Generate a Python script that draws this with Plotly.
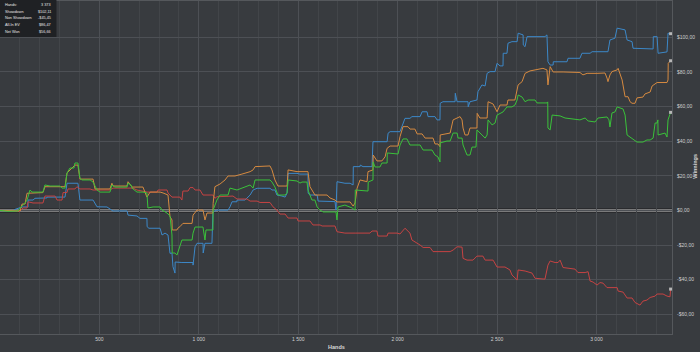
import plotly.graph_objects as go

# ---- data (hands, cumulative winnings $) ----
showdown = [(0,0),(65,-0.3),(75,0.6),(111,2.0),(141,2.0),(141,6.0),(166,6.0),(176,7.0),(236,7.2),(236,7.7),(327,7.7),(337,15.7),(392,15.7),(402,6.0),(468,6.0),(478,4.3),(488,2.1),(538,2.0),(553,0.8),(568,-0.3),(639,-0.3),(644,-2.7),(689,-3.2),(704,-4.6),(739,-4.6),(740,-9.4),(749,-10.3),(805,-10.3),(815,-14.2),(830,-13.1),(845,-14.2),(855,-24.8),(865,-24.6),(870,-32.5),(880,-36.2),(881,-29.8),(915,-30.1),(971,-30.1),(971,-31.6),(981,-21.0),(991,-19.0),(1021,-19.0),(1022,-24.6),(1031,-19.0),(1066,-19.0),(1071,-0.8),(1091,0.2),(1147,0.2),(1157,2.1),(1167,5.0),(1192,5.0),(1192,6.0),(1232,6.0),(1258,8.9),(1273,11.8),(1293,12.8),(1358,12.8),(1368,11.8),(1383,11.8),(1393,8.9),(1418,8.3),(1434,7.7),(1444,10.1),(1449,21.4),(1494,21.4),(1509,21.0),(1549,21.0),(1550,9.9),(1559,8.9),(1595,8.9),(1600,5.4),(1685,5.1),(1690,0.2),(1695,16.6),(1735,15.7),(1761,15.7),(1776,14.7),(1777,25.3),(1811,25.3),(1812,26.2),(1826,25.3),(1871,25.3),(1876,39.7),(1947,39.7),(1952,44.6),(1962,45.5),(2012,45.5),(2022,48.4),(2037,53.2),(2062,53.2),(2072,54.2),(2113,54.2),(2123,57.0),(2148,57.0),(2153,54.2),(2188,54.2),(2198,52.3),(2213,52.3),(2214,61.9),(2228,62.8),(2289,62.8),(2290,67.7),(2299,62.8),(2354,62.8),(2355,59.9),(2364,62.8),(2399,63.8),(2404,68.6),(2424,72.5),(2440,71.9),(2450,79.2),(2465,80.2),(2490,80.2),(2500,85.0),(2515,83.5),(2530,83.5),(2531,90.8),(2550,90.8),(2555,96.6),(2575,97.5),(2601,97.5),(2606,102.4),(2631,101.4),(2632,95.6),(2641,94.6),(2651,100.4),(2741,100.4),(2751,101.4),(2756,85.9),(2767,84.0),(2782,84.0),(2783,85.9),(2852,85.9),(2857,87.9),(2917,87.9),(2927,90.8),(2968,90.8),(2978,91.7),(3058,91.7),(3068,98.5),(3093,99.5),(3104,105.3),(3144,104.3),(3154,98.5),(3179,97.5),(3184,93.7),(3244,93.3),(3285,93.3),(3286,100.4),(3305,100.4),(3310,90.8),(3355,91.6),(3360,102.4),(3373,102.11)]

non_showdown = [(0,0),(101,-0.3),(116,1.4),(136,1.4),(141,5.0),(166,4.3),(216,4.3),(226,8.3),(277,8.3),(287,6.0),(312,6.0),(317,10.3),(337,10.3),(342,12.4),(377,12.4),(387,13.7),(402,12.4),(453,12.4),(468,11.8),(553,11.8),(568,12.9),(669,12.9),(689,11.8),(739,10.6),(790,10.6),(795,11.8),(840,11.8),(845,10.1),(865,7.7),(905,7.7),(915,6.0),(920,11.2),(946,11.2),(956,13.2),(971,13.2),(981,11.8),(1006,11.8),(1021,8.9),(1071,8.9),(1081,7.0),(1091,7.9),(1142,7.9),(1172,8.3),(1192,6.6),(1242,6.6),(1258,5.4),(1293,5.4),(1308,4.6),(1358,4.6),(1373,2.1),(1393,0.2),(1408,-2.1),(1434,-2.1),(1449,-4.4),(1494,-4.4),(1499,-6.1),(1559,-6.1),(1574,-8.4),(1610,-8.4),(1620,-9.0),(1685,-9.0),(1695,-12.3),(1735,-13.1),(1786,-13.1),(1861,-13.1),(1871,-11.9),(1896,-11.9),(1901,-14.8),(1947,-14.8),(1952,-13.1),(1997,-13.1),(2012,-13.6),(2037,-10.3),(2062,-13.1),(2072,-17.1),(2113,-20.0),(2128,-21.4),(2163,-21.4),(2178,-23.8),(2264,-23.8),(2279,-22.9),(2299,-21.0),(2324,-21.2),(2329,-27.7),(2349,-28.7),(2379,-28.7),(2399,-26.4),(2429,-26.4),(2440,-28.7),(2480,-28.7),(2490,-30.4),(2500,-32.7),(2540,-32.7),(2565,-34.4),(2575,-37.3),(2601,-40.2),(2606,-34.4),(2641,-35.0),(2676,-36.2),(2691,-39.2),(2741,-39.7),(2756,-31.6),(2767,-29.2),(2792,-30.1),(2807,-30.1),(2817,-28.7),(2832,-33.0),(2867,-33.3),(2892,-33.9),(2907,-35.9),(2943,-35.9),(2958,-35.4),(2968,-40.8),(2983,-41.4),(3003,-43.1),(3018,-41.7),(3033,-42.0),(3053,-44.6),(3104,-44.6),(3109,-46.6),(3134,-47.2),(3154,-50.6),(3179,-50.6),(3194,-53.2),(3219,-54.7),(3234,-52.4),(3254,-51.8),(3270,-50.3),(3295,-49.5),(3305,-48.3),(3335,-48.3),(3355,-49.5),(3370,-49.9),(3373,-45.45)]

all_in_ev = [(0,0),(101,-0.3),(111,3.7),(126,3.7),(136,9.9),(151,9.9),(161,10.3),(216,10.3),(226,13.7),(327,13.7),(337,21.6),(352,23.4),(377,26.2),(392,26.2),(402,18.1),(468,18.1),(478,12.4),(553,12.4),(563,15.7),(568,14.1),(639,14.1),(644,16.6),(664,13.5),(719,13.5),(739,7.7),(755,10.6),(805,10.6),(820,10.1),(845,8.9),(855,-3.6),(865,-5.5),(866,-11.3),(890,-11.3),(895,-10.2),(905,-9.4),(920,-7.5),(966,-7.5),(971,-2.7),(991,0.2),(1021,0.2),(1031,-5.5),(1041,-1.5),(1071,-1.5),(1072,4.1),(1081,13.7),(1107,15.3),(1132,17.6),(1147,19.9),(1182,19.9),(1217,21.0),(1258,22.4),(1273,23.4),(1283,25.3),(1358,25.7),(1368,23.4),(1383,17.6),(1398,14.1),(1444,14.1),(1449,23.4),(1494,22.4),(1549,22.4),(1559,13.7),(1569,11.8),(1584,8.9),(1645,8.9),(1660,7.2),(1685,6.0),(1695,4.9),(1761,4.9),(1776,2.5),(1786,4.3),(1796,12.8),(1811,17.6),(1846,16.6),(1851,22.4),(1876,23.4),(1877,32.0),(1896,28.6),(1921,28.6),(1937,31.0),(1947,35.9),(1962,37.2),(2002,37.2),(2012,42.6),(2027,48.4),(2052,48.4),(2062,47.0),(2087,47.0),(2098,44.2),(2123,44.2),(2138,41.8),(2178,41.8),(2188,38.4),(2203,38.4),(2213,36.8),(2214,43.6),(2264,44.7),(2279,52.3),(2314,54.2),(2324,52.3),(2329,47.6),(2339,43.6),(2354,43.6),(2364,47.6),(2399,47.6),(2400,56.1),(2414,53.4),(2450,53.4),(2455,62.8),(2480,61.5),(2500,57.0),(2515,60.9),(2550,60.9),(2555,63.8),(2590,63.8),(2606,72.5),(2626,74.4),(2641,79.2),(2666,80.6),(2691,81.2),(2731,82.1),(2751,81.2),(2756,72.5),(2767,83.1),(2782,80.0),(2832,80.0),(2917,79.7),(2932,78.3),(2953,79.2),(3003,79.2),(3043,79.4),(3053,76.5),(3058,74.4),(3068,78.3),(3078,80.2),(3104,81.2),(3109,82.1),(3129,75.4),(3144,65.7),(3159,65.7),(3169,62.8),(3179,61.9),(3194,61.9),(3204,65.0),(3234,65.5),(3244,67.3),(3270,68.4),(3280,71.9),(3295,73.1),(3305,73.9),(3355,73.9),(3360,75.4),(3361,85.0),(3370,85.8),(3373,86.47)]

net_won = [(0,0),(40,-0.5),(91,-0.3),(101,1.4),(126,4.3),(136,6.0),(151,11.8),(161,10.6),(216,10.6),(226,14.7),(252,14.1),(302,14.1),(312,12.9),(327,12.9),(337,21.6),(352,24.5),(372,24.5),(377,27.4),(392,27.4),(402,18.7),(412,17.6),(453,17.6),(468,16.4),(488,11.8),(503,10.6),(553,10.6),(563,14.7),(578,13.5),(639,13.5),(644,15.8),(659,14.7),(664,12.9),(689,10.6),(719,10.6),(739,10.1),(744,1.4),(770,2.0),(805,2.0),(815,0.2),(840,-1.5),(855,-3.2),(865,-14.2),(866,-24.6),(880,-24.6),(890,-25.8),(905,-21.2),(915,-17.1),(966,-17.1),(971,-13.1),(981,-9.6),(1021,-9.6),(1031,-17.1),(1036,-11.3),(1071,-11.3),(1072,0.2),(1091,6.0),(1107,8.9),(1147,8.9),(1157,12.9),(1192,11.8),(1217,12.9),(1258,14.7),(1273,12.9),(1283,17.6),(1358,17.6),(1368,16.4),(1383,13.5),(1398,8.9),(1434,8.9),(1444,10.1),(1449,17.6),(1494,17.0),(1509,15.8),(1519,16.4),(1544,16.4),(1549,11.8),(1569,6.0),(1584,6.0),(1595,2.0),(1610,0.2),(1625,-0.9),(1690,-0.9),(1695,-5.5),(1700,2.0),(1735,3.1),(1771,1.4),(1786,0.2),(1787,11.8),(1851,11.2),(1852,16.4),(1876,17.6),(1877,28.0),(1886,25.1),(1911,25.1),(1921,27.4),(1947,27.4),(1948,33.2),(2002,32.6),(2012,37.8),(2027,41.3),(2047,41.3),(2062,37.8),(2113,37.8),(2128,34.9),(2173,34.9),(2188,32.0),(2203,30.9),(2213,28.0),(2214,39.0),(2248,40.1),(2264,40.1),(2279,44.7),(2299,44.7),(2304,41.8),(2324,41.8),(2329,37.8),(2349,32.0),(2364,32.0),(2374,36.6),(2394,36.6),(2399,46.5),(2414,44.7),(2440,41.8),(2450,43.6),(2455,52.3),(2475,49.4),(2490,50.5),(2500,55.1),(2530,56.9),(2550,59.8),(2575,59.8),(2590,60.9),(2601,63.8),(2606,66.7),(2626,65.5),(2641,62.8),(2656,63.8),(2691,63.8),(2701,62.1),(2751,62.1),(2755,62.7),(2756,47.6),(2767,46.5),(2777,55.1),(2817,54.6),(2842,53.4),(2892,52.8),(2917,52.3),(2943,53.4),(2958,51.7),(2993,51.1),(3008,53.4),(3053,54.0),(3063,52.3),(3068,48.2),(3078,56.3),(3093,56.9),(3104,59.8),(3134,58.6),(3144,55.1),(3154,43.6),(3169,42.4),(3184,40.7),(3204,39.5),(3234,39.5),(3254,40.7),(3270,40.7),(3285,41.8),(3295,50.5),(3305,50.5),(3309,52.3),(3310,43.6),(3345,44.7),(3355,42.4),(3360,52.3),(3370,55.1),(3373,56.66)]

series_names = ["Showdown", "Non Showdown", "All-In EV", "Net Won"]
series_colors = ["#3c88c8", "#c64343", "#d68a40", "#3ac23a"]
series_data = [showdown, non_showdown, all_in_ev, net_won]

summary_labels = ["Hands:", "Showdown", "Non Showdown", "All-In EV", "Net Won"]
summary_values = ["3 373", "$102,11", "-$45,45", "$86,47", "$56,66"]

x_ticks = [500, 1000, 1500, 2000, 2500, 3000]
x_ticktext = ["500", "1 000", "1 500", "2 000", "2 500", "3 000"]
y_ticks = [-60, -40, -20, 0, 20, 40, 60, 80, 100]


def money(v):
    s = "${:,.2f}".format(abs(v)).replace(".", ",")
    return ("-" + s) if v < 0 else s


y_ticktext = [money(v) for v in y_ticks]

BG = "#383b3f"
FONT = "Liberation Sans"

fig = go.Figure()
for name, color, data in zip(series_names, series_colors, series_data):
    xs = [p[0] for p in data]
    ys = [p[1] for p in data]
    fig.add_trace(go.Scatter(x=xs, y=ys, mode="lines", name=name,
                             line=dict(color=color, width=1), showlegend=False))
# end markers
fig.add_trace(go.Scatter(x=[d[-1][0] for d in series_data], y=[d[-1][1] for d in series_data],
                         mode="markers", marker=dict(symbol="square", size=3, color="#b8b8b8"),
                         showlegend=False, hoverinfo="skip"))

fig.update_layout(
    width=700, height=352,
    margin=dict(l=0, r=28, t=1, b=18),
    paper_bgcolor=BG, plot_bgcolor=BG,
    font=dict(family=FONT, color="#d0d0d0", size=5),
    xaxis=dict(range=[0, 3380], tickvals=x_ticks, ticktext=x_ticktext,
               showgrid=True, gridcolor="#4d5055", gridwidth=1,
               minor=dict(dtick=100, showgrid=True, gridcolor="#424549", gridwidth=1),
               zeroline=False, showline=True, linecolor="#55585c", mirror=True,
               ticks="", tickfont=dict(size=5, color="#cfcfcf"), automargin=False),
    yaxis=dict(range=[-71.4, 121], side="right", tickvals=y_ticks, ticktext=y_ticktext,
               showgrid=True, gridcolor="#4d5055", gridwidth=1,
               zeroline=False, showline=True, linecolor="#55585c", mirror=True,
               ticks="", ticklabelstandoff=3, tickfont=dict(size=5, color="#cfcfcf"), automargin=False),
)

# zero line (dark outline + light core)
fig.add_shape(type="line", xref="paper", x0=0, x1=1, yref="y", y0=0, y1=0,
              line=dict(color="#1c1d1f", width=4), layer="below")
fig.add_shape(type="line", xref="paper", x0=0, x1=1, yref="y", y0=0, y1=0,
              line=dict(color="#d8d8d8", width=2), layer="below")

# summary box
fig.add_shape(type="rect", xref="paper", yref="paper", x0=0, x1=0.084, y0=0.892, y1=1.003,
              fillcolor="#1f2124", line=dict(width=0), layer="above")
row_y = [0.9865, 0.967, 0.9475, 0.928, 0.908]
for lab, val, yy in zip(summary_labels, summary_values, row_y):
    fig.add_annotation(text=lab, xref="paper", yref="paper", x=0.004, y=yy, xanchor="left",
                       yanchor="middle", showarrow=False, font=dict(size=3.8, color="#e6e6e6"))
    fig.add_annotation(text=val, xref="paper", yref="paper", x=0.079, y=yy, xanchor="right",
                       yanchor="middle", showarrow=False, font=dict(size=3.8, color="#e6e6e6"))

# axis titles
fig.add_annotation(text="<b>Hands</b>", xref="paper", yref="paper", x=0.5, y=-0.039,
                   xanchor="center", yanchor="middle", showarrow=False,
                   font=dict(size=5.5, color="#d8d8d8"))
fig.add_annotation(text="<b>Winnings</b>", xref="paper", yref="paper", x=1.034, y=0.505,
                   xanchor="center", yanchor="middle", textangle=-90, showarrow=False,
                   font=dict(size=5.5, color="#d8d8d8"))

fig.write_html("out.html")
